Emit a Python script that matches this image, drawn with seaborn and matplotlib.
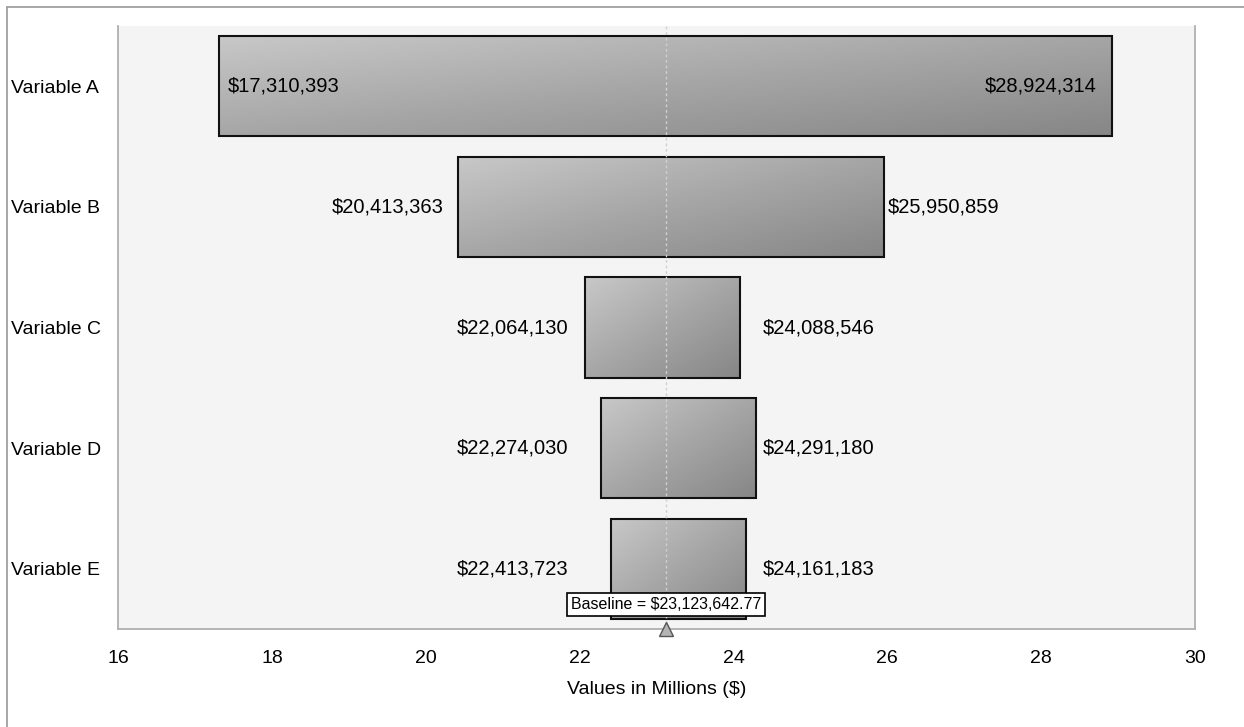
#!/usr/bin/env python3

import numpy as np
import pandas as pd
import seaborn as sns
import matplotlib.pyplot as plt
import matplotlib.transforms as mtransforms
from matplotlib.colors import LinearSegmentedColormap
from matplotlib.lines import Line2D

variables = ['Variable A', 'Variable B', 'Variable C', 'Variable D', 'Variable E']
low_values = [17310393, 20413363, 22064130, 22274030, 22413723]
high_values = [28924314, 25950859, 24088546, 24291180, 24161183]
baseline = 23123642.77
x_ticks = [16, 18, 20, 22, 24, 26, 28, 30]

df = pd.DataFrame({'Variable': variables, 'Low': low_values, 'High': high_values})
df['LowM'] = df['Low'] / 1e6
df['HighM'] = df['High'] / 1e6
df['Span'] = df['HighM'] - df['LowM']
base_m = baseline / 1e6

sns.set_style('white', {'text.color': 'black', 'xtick.color': 'black', 'ytick.color': 'black',
                        'axes.labelcolor': 'black'})
plt.rcParams['font.family'] = ['Liberation Sans', 'DejaVu Sans']

fig = plt.figure(figsize=(12.44, 7.27), dpi=100)
ax = fig.add_axes([0.0949, 0.1348, 0.8657, 0.8294])
ax.set_facecolor('#f4f4f4')

# bars: width = span, then shift each bar to start at its low value
sns.barplot(data=df, x='Span', y='Variable', orient='h', width=0.83,
            color='#aaaaaa', edgecolor='#111111', linewidth=1.5, ax=ax, zorder=3)

# diagonal grey gradient inside each bar
grey_cmap = LinearSegmentedColormap.from_list('bar_grey', ['#c8c8c8', '#a6a6a6', '#868686'])
grad = np.linspace(0, 1, 200)
gx, gy = np.meshgrid(grad, grad)
gimg = 0.5 * gx + 0.5 * gy
for patch, lo in zip(ax.patches, df['LowM']):
    patch.set_x(lo)
    patch.set_facecolor('none')
    x0, y0 = patch.get_x(), patch.get_y()
    w, h = patch.get_width(), patch.get_height()
    im = ax.imshow(gimg, extent=[x0, x0 + w, y0 + h, y0], cmap=grey_cmap,
                   vmin=0, vmax=1, aspect='auto', origin='upper',
                   zorder=2, interpolation='bilinear')
    im.set_clip_path(patch)

ax.set_xlim(16, 30)
ax.set_ylim(4.5, -0.5)

# baseline line
ax.axvline(base_m, color='#d0d0d0', linestyle=(0, (2, 2)), linewidth=1, zorder=4)

# value labels
for i, row in df.iterrows():
    if row['LowM'] < 18:
        ax.text(row['LowM'] + 0.12, i, f"${row['Low']:,.0f}", ha='left', va='center',
                fontsize=14.5, zorder=5)
        ax.text(row['HighM'] - 0.2, i, f"${row['High']:,.0f}", ha='right', va='center',
                fontsize=14.5, zorder=5)
    else:
        ax.text(min(row['LowM'] - 0.18, 21.85), i, f"${row['Low']:,.0f}", ha='right',
                va='center', fontsize=14.5, zorder=5)
        ax.text(max(row['HighM'] + 0.05, 24.38), i, f"${row['High']:,.0f}", ha='left',
                va='center', fontsize=14.5, zorder=5)

# baseline label and marker
ax.text(base_m, 4.3, f"Baseline = ${baseline:,.2f}", ha='center', va='center',
        fontsize=11.5, zorder=6,
        bbox=dict(boxstyle='square,pad=0.25', facecolor='white', edgecolor='black', linewidth=1.2))
trans = mtransforms.blended_transform_factory(ax.transData, ax.transAxes)
ax.plot([base_m], [0], marker='^', markersize=10, color='#b4b4b4',
        markeredgecolor='#555555', transform=trans, clip_on=False, zorder=7)

# axes styling
for side in ['left', 'bottom', 'right']:
    ax.spines[side].set_color('#b0b0b0')
    ax.spines[side].set_linewidth(1.3)
ax.spines['top'].set_visible(False)
ax.set_xticks(x_ticks)
ax.tick_params(axis='x', length=6, width=1, color='#b0b0b0', labelcolor='black',
               labelsize=14, pad=9)
ax.tick_params(axis='y', length=0, labelsize=14, labelcolor='black', pad=77)
for lbl in ax.get_yticklabels():
    lbl.set_horizontalalignment('left')
ax.set_xlabel('Values in Millions ($)', fontsize=14, labelpad=10)
ax.set_ylabel('')

# figure frame (top and left edges)
fig.add_artist(Line2D([7 / 1244, 1], [1 - 7 / 727, 1 - 7 / 727], color='#a0a0a0', linewidth=1.3))
fig.add_artist(Line2D([7 / 1244, 7 / 1244], [0, 1 - 7 / 727], color='#a0a0a0', linewidth=1.3))

plt.savefig('out.png', dpi=100)
plt.close()
